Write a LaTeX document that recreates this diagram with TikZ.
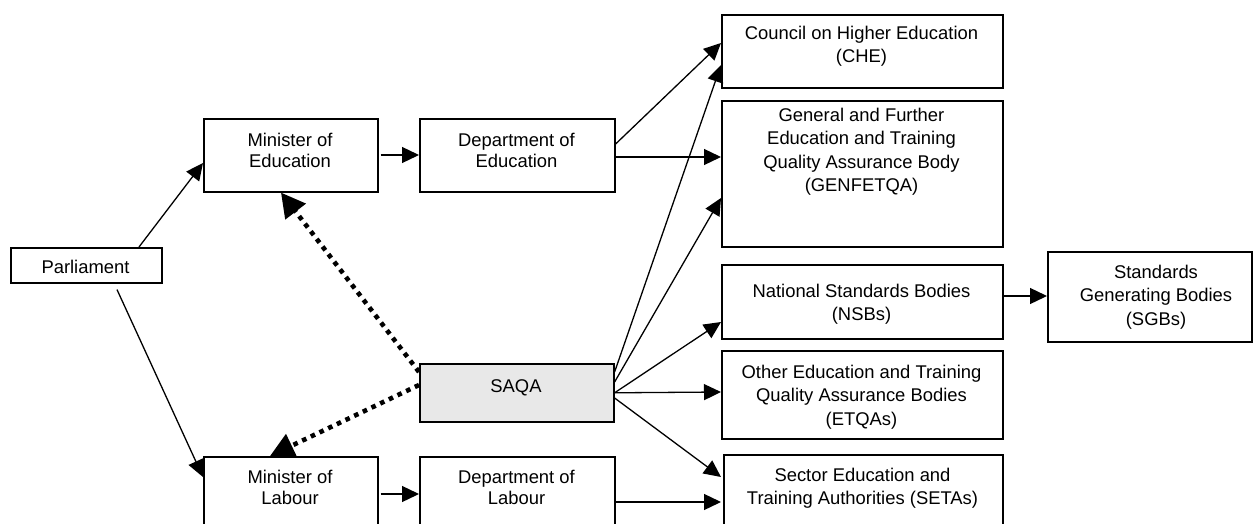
\documentclass[tikz,border=0pt]{standalone}
\usepackage{fontspec}
\setmainfont{Liberation Sans}
\usetikzlibrary{arrows.meta,calc}
\definecolor{saqagray}{RGB}{232,232,232}
\tikzset{
  box/.style={draw=black, line width=1.6pt, fill=white, anchor=north west, inner sep=0pt},
  ltxt/.style={anchor=north, align=center, inner sep=0pt, font=\fontsize{18.4}{21}\selectfont},
  rtxt/.style={anchor=north, align=center, inner sep=0pt, font=\fontsize{18.4}{23.3}\selectfont},
  conn/.style={line width=1.3pt, -{Triangle[length=17pt,width=16pt]}},
  dotconn/.style={line width=4.6pt, dash pattern=on 4.6pt off 5pt, -{Triangle[length=24pt,width=25pt]}}
}
\begin{document}
\begin{tikzpicture}[x=1pt,y=-1pt]
\useasboundingbox (0,0) rectangle (1253,524);
\clip (0,0) rectangle (1253,524);
% boxes
\node[box, minimum width=151pt, minimum height=35pt] (parl) at (10,247) {};
\node[box, minimum width=174pt, minimum height=73pt] (minedu) at (203,118) {};
\node[box, minimum width=195pt, minimum height=73pt] (deptedu) at (419,118) {};
\node[box, minimum width=174pt, minimum height=89pt] (minlab) at (203,456) {};
\node[box, minimum width=195pt, minimum height=89pt] (deptlab) at (419,456) {};
\node[box, fill=saqagray, minimum width=194pt, minimum height=58pt] (saqa) at (419,363) {};
\node[box, minimum width=281pt, minimum height=73pt] (che) at (721,14) {};
\node[box, minimum width=281pt, minimum height=146pt] (genf) at (721,100) {};
\node[box, minimum width=281pt, minimum height=74pt] (nsb) at (721,264) {};
\node[box, minimum width=204pt, minimum height=90pt] (sgb) at (1047,251) {};
\node[box, minimum width=281pt, minimum height=88pt] (etqa) at (721,350) {};
\node[box, minimum width=279pt, minimum height=89pt] (seta) at (723,454) {};
% texts
\node[ltxt] (parl-t) at (85.5,260) {Parliament};
\node[ltxt] (minedu-t) at (290,133) {Minister of\\Education};
\node[ltxt] (deptedu-t) at (516.5,133) {Department of\\Education};
\node[ltxt] (minlab-t) at (290,470) {Minister of\\Labour};
\node[ltxt] (deptlab-t) at (516.5,470) {Department of\\Labour};
\node[ltxt] (saqa-t) at (516,379) {SAQA};
\node[rtxt] (che-t) at (861.5,26) {Council on Higher Education\\(CHE)};
\node[rtxt] (genf-t) at (861.5,108) {General and Further\\Education and Training\\Quality Assurance Body\\(GENFETQA)};
\node[rtxt] (nsb-t) at (861.5,284) {National Standards Bodies\\(NSBs)};
\node[rtxt] (sgb-t) at (1156,265) {Standards\\Generating Bodies\\(SGBs)};
\node[rtxt] (etqa-t) at (861.5,365) {Other Education and Training\\Quality Assurance Bodies\\(ETQAs)};
\node[rtxt] (seta-t) at (862.5,468) {Sector Education and\\Training Authorities (SETAs)};
% connectors
\draw[conn] ($(parl.north west)+(129,0)$) -- ($(minedu.north west)+(0,45)$);
\draw[conn] ($(parl.south west)+(107,6)$) -- ($(minlab.north west)+(0,21)$);
\draw[conn] ($(minedu.north east)+(2,37)$) -- ($(deptedu.north west)+(0,37)$);
\draw[conn] ($(minlab.north east)+(2,38)$) -- ($(deptlab.north west)+(0,38)$);
\draw[conn] ($(deptedu.north east)+(0,26)$) -- ($(che.north west)+(0,29)$);
\draw[conn] ($(deptedu.north east)+(0,39)$) -- ($(genf.north west)+(0,57)$);
\draw[conn] ($(saqa.north east)+(0,9)$) -- ($(che.north west)+(0,51)$);
\draw[conn] ($(saqa.north east)+(0,19)$) -- ($(genf.north west)+(0,98)$);
\draw[conn] (saqa.east) -- ($(nsb.north west)+(0,58)$);
\draw[conn] (saqa.east) -- ($(etqa.north west)+(0,42)$);
\draw[conn] ($(saqa.north east)+(0,35)$) -- ($(seta.north west)+(-2,23)$);
\draw[conn] ($(deptlab.north east)+(0,46)$) -- ($(seta.north west)+(-2,48)$);
\draw[conn] ($(nsb.north east)+(0,32)$) -- ($(sgb.north west)+(0,45)$);
\draw[dotconn] ($(saqa.north west)+(0,9)$) -- ($(minedu.south west)+(78,0)$);
\draw[dotconn] ($(saqa.north west)+(0,22)$) -- ($(minlab.north west)+(67,0)$);
\end{tikzpicture}
\end{document}
